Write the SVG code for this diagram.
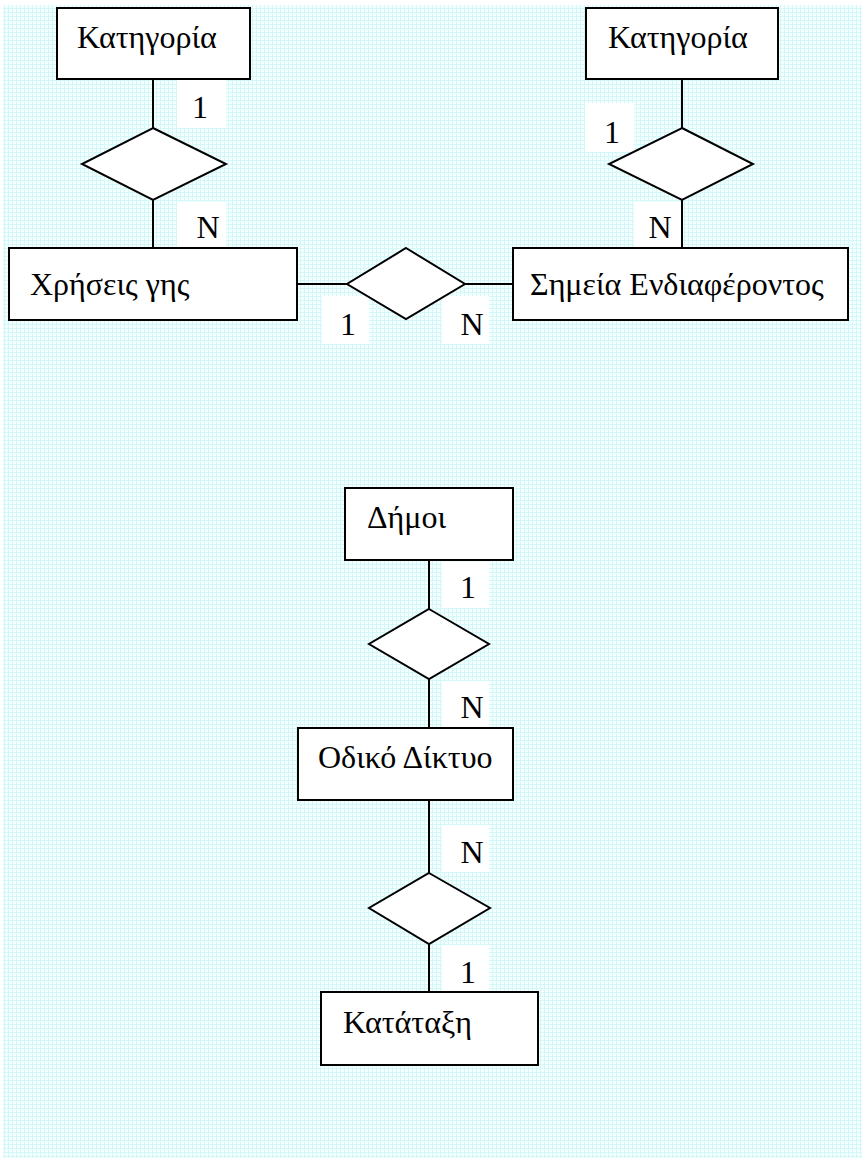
<svg xmlns="http://www.w3.org/2000/svg" width="862" height="1158" viewBox="0 0 862 1158">
  <defs>
    <!-- fine cyan grid paper -->
    <pattern id="grid" width="4" height="4" patternUnits="userSpaceOnUse">
      <rect width="4" height="4" fill="#f4ffff"/>
      <path d="M0 0.5H4M0.5 0V4" stroke="#d4f8fa" stroke-width="1"/>
    </pattern>
  </defs>
  <style>
    .box { fill: #ffffff; stroke: #000000; stroke-width: 2; }
    .rel { fill: #ffffff; stroke: #000000; stroke-width: 2; stroke-linejoin: miter; }
    .conn { stroke: #000000; stroke-width: 2; fill: none; }
    .tag { fill: #ffffff; }
    .card { text-anchor: middle; }
  </style>

  <!-- paper background -->
  <rect x="0" y="0" width="862" height="1158" fill="#ffffff"/>
  <rect x="3" y="5" width="859" height="1153" fill="url(#grid)"/>

  <!-- cardinality tags -->
  <g id="cardinalities" font-family="'Liberation Serif', 'Times New Roman', serif" font-size="32" fill="#000000">
    <rect class="tag" x="177" y="80" width="49" height="48"/>
    <text class="card" x="200" y="118">1</text>
    <rect class="tag" x="177" y="202" width="49" height="46"/>
    <text class="card" x="208" y="238">N</text>

    <rect class="tag" x="585" y="103" width="49" height="49"/>
    <text class="card" x="612" y="143">1</text>
    <rect class="tag" x="634" y="202" width="48" height="46"/>
    <text class="card" x="660" y="238">N</text>

    <rect class="tag" x="322" y="296" width="47" height="48"/>
    <text class="card" x="348" y="335">1</text>
    <rect class="tag" x="442" y="296" width="47" height="48"/>
    <text class="card" x="472" y="335">N</text>

    <rect class="tag" x="442" y="562" width="47" height="46"/>
    <text class="card" x="468" y="598">1</text>
    <rect class="tag" x="442" y="681" width="47" height="46"/>
    <text class="card" x="472" y="718">N</text>

    <rect class="tag" x="442" y="825" width="47" height="47"/>
    <text class="card" x="472" y="863">N</text>
    <rect class="tag" x="442" y="945" width="47" height="47"/>
    <text class="card" x="468" y="983">1</text>
  </g>

  <!-- connectors -->
  <g id="connectors">
    <path class="conn" d="M153 79V128M153 200V248"/>
    <path class="conn" d="M682 79V128M682 200V248"/>
    <path class="conn" d="M297 284H347M465 284H513"/>
    <path class="conn" d="M429 560V609M429 679V728"/>
    <path class="conn" d="M429 800V873M429 944V992"/>
  </g>

  <!-- relationships -->
  <g id="rel-category-landuse">
    <polygon class="rel" points="153,128 226,164 153,200 82,164"/>
  </g>
  <g id="rel-category-poi">
    <polygon class="rel" points="682,128 753,164 682,200 609,164"/>
  </g>
  <g id="rel-landuse-poi">
    <polygon class="rel" points="406,248 465,284 406,319 347,284"/>
  </g>
  <g id="rel-municipality-road">
    <polygon class="rel" points="429,609 489,644 429,679 369,644"/>
  </g>
  <g id="rel-road-class">
    <polygon class="rel" points="429,873 490,908 429,944 369,908"/>
  </g>

  <!-- entities -->
  <g font-family="'Liberation Serif', 'Times New Roman', serif" font-size="32" fill="#000000">
    <g id="category-1">
      <rect class="box" x="57" y="8" width="193" height="71"/>
      <text x="77" y="48">Κατηγορία</text>
    </g>
    <g id="category-2">
      <rect class="box" x="586" y="8" width="192" height="71"/>
      <text x="608" y="48">Κατηγορία</text>
    </g>
    <g id="land-use">
      <rect class="box" x="9" y="248" width="288" height="72"/>
      <text x="30" y="295">Χρήσεις γης</text>
    </g>
    <g id="points-of-interest">
      <rect class="box" x="513" y="248" width="335" height="72"/>
      <text x="530" y="295">Σημεία Ενδιαφέροντος</text>
    </g>
    <g id="municipalities">
      <rect class="box" x="345" y="488" width="168" height="72"/>
      <text x="367" y="528">Δήμοι</text>
    </g>
    <g id="road-network">
      <rect class="box" x="298" y="728" width="215" height="72"/>
      <text x="318" y="768">Οδικό Δίκτυο</text>
    </g>
    <g id="road-class">
      <rect class="box" x="321" y="992" width="217" height="73"/>
      <text x="343" y="1033">Κατάταξη</text>
    </g>
  </g>
</svg>
